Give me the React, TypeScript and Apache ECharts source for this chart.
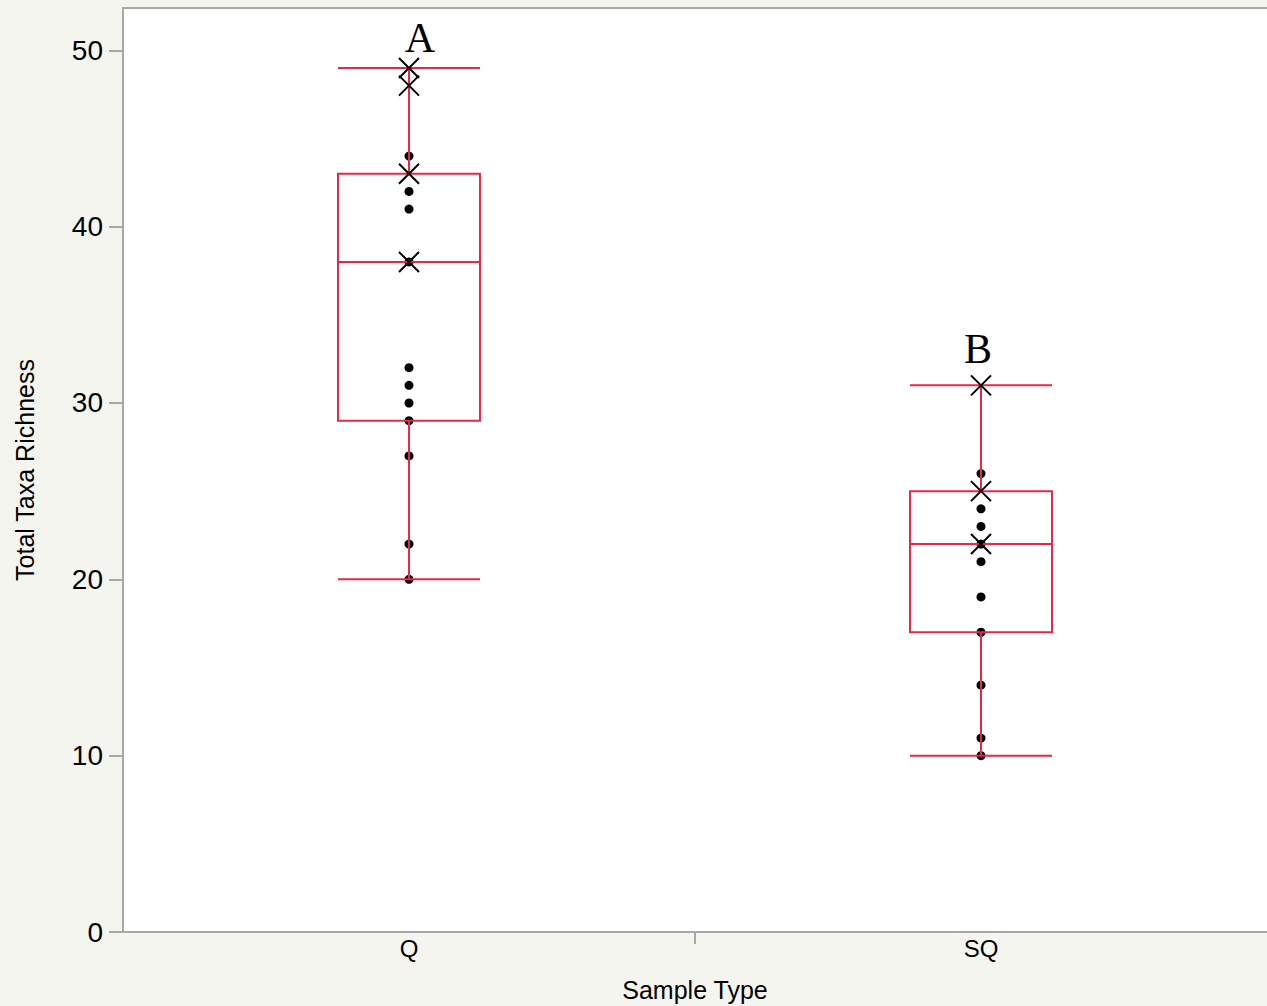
import React, { useEffect, useRef } from "react";
import * as echarts from "echarts";

// Sample type categories
const categories = ["Q", "SQ"];

// Box statistics per category: [lower whisker, Q1, median, Q3, upper whisker]
const boxStats = [
  [20, 29, 38, 43, 49],
  [10, 17, 22, 25, 31],
];

// Individual observations drawn as dots
const qDots = [44, 42, 41, 38, 32, 31, 30, 29, 27, 22, 20];
const sqDots = [26, 24, 23, 22, 21, 19, 17, 14, 11, 10];

// Observations drawn as crosses
const qCrosses = [49, 48, 43, 38];
const sqCrosses = [31, 25, 22];

// Significance group letters and the heights they sit at
const groupLetters = ["A", "B"];
const letterHeights = [50.7, 33.08];

const yTicks = [0, 10, 20, 30, 40, 50];

const RED = "#E8274B";
const AXIS_GRAY = "#A8A8A8";
const SANS = "'Liberation Sans', Arial, Helvetica, sans-serif";

export default function App() {
  const ref = useRef<HTMLDivElement>(null);

  useEffect(() => {
    document.body.style.margin = "0";
    const chart = echarts.init(ref.current!, null, { renderer: "svg" });

    const dotData = [
      ...qDots.map((v) => [0, v]),
      ...sqDots.map((v) => [1, v]),
    ];
    const crossData = [
      ...qCrosses.map((v) => [0, v]),
      ...sqCrosses.map((v) => [1, v]),
    ];
    const letterData = groupLetters.map((t, i) => ({
      value: [i, letterHeights[i]],
      name: t,
      label: { offset: [i === 0 ? 11 : -3, 0] },
    }));

    chart.setOption({
      animation: false,
      backgroundColor: "#F5F5F0",
      grid: {
        left: 123,
        top: 8,
        right: 0,
        bottom: 74,
        containLabel: false,
        outerBoundsMode: "none",
        show: true,
        backgroundColor: "#FFFFFF",
        borderWidth: 0,
      },
      xAxis: [
        {
          type: "category",
          data: categories,
          boundaryGap: true,
          name: "Sample Type",
          nameLocation: "middle",
          nameGap: 45,
          nameTextStyle: { fontFamily: SANS, fontSize: 25, color: "#000" },
          axisLine: { onZero: false, lineStyle: { color: AXIS_GRAY, width: 2 } },
          axisTick: { show: false },
          axisLabel: { fontFamily: SANS, fontSize: 24, color: "#000", margin: 4 },
          splitLine: { show: false },
        },
        {
          // helper axis carrying the single divider tick between the two groups
          type: "value",
          position: "bottom",
          min: -0.5,
          max: 1.5,
          axisLine: { show: false, onZero: false },
          axisLabel: { show: false },
          splitLine: { show: false },
          axisTick: {
            show: true,
            length: 12,
            customValues: [0.5],
            lineStyle: { color: AXIS_GRAY, width: 2 },
          },
        },
        {
          // frame line along the top of the plot area
          type: "value",
          position: "top",
          min: -0.5,
          max: 1.5,
          axisLine: { show: true, onZero: false, lineStyle: { color: AXIS_GRAY, width: 2 } },
          axisLabel: { show: false },
          axisTick: { show: false },
          splitLine: { show: false },
        },
      ],
      yAxis: {
        type: "value",
        min: 0,
        max: 52.4,
        interval: 10,
        name: "Total Taxa Richness",
        nameLocation: "middle",
        nameGap: 86,
        nameTextStyle: { fontFamily: SANS, fontSize: 25, color: "#000" },
        axisLine: { show: true, onZero: false, lineStyle: { color: AXIS_GRAY, width: 2 } },
        axisTick: {
          show: true,
          length: 14,
          customValues: yTicks,
          lineStyle: { color: AXIS_GRAY, width: 2 },
        },
        axisLabel: {
          fontFamily: SANS,
          fontSize: 28,
          color: "#000",
          margin: 20,
          customValues: yTicks,
        },
        splitLine: { show: false },
      },
      series: [
        {
          type: "scatter",
          name: "dots",
          data: dotData,
          symbol: "circle",
          symbolSize: 9,
          itemStyle: { color: "#000", opacity: 1 },
          z: 2,
        },
        {
          type: "boxplot",
          name: "box",
          data: boxStats,
          boxWidth: [142, 142],
          itemStyle: { color: "transparent", borderColor: RED, borderWidth: 2 },
          z: 3,
        },
        {
          type: "scatter",
          name: "crosses",
          data: crossData,
          symbol: "path://M0,0L20,20M20,0L0,20",
          symbolSize: 20,
          itemStyle: { color: "none", borderColor: "#000", borderWidth: 2, opacity: 1 },
          z: 4,
        },
        {
          type: "scatter",
          name: "letters",
          data: letterData,
          symbolSize: 0,
          silent: true,
          itemStyle: { opacity: 1 },
          label: {
            show: true,
            position: "inside",
            formatter: (p: any) => p.name,
            fontFamily: "'Liberation Serif', 'Times New Roman', serif",
            fontSize: 42,
            color: "#000",
            opacity: 1,
          },
          z: 5,
        },
      ],
    });

    return () => chart.dispose();
  }, []);

  return (
    <div
      ref={ref}
      style={{ position: "absolute", left: 0, top: 0, width: 1267, height: 1006 }}
    />
  );
}
